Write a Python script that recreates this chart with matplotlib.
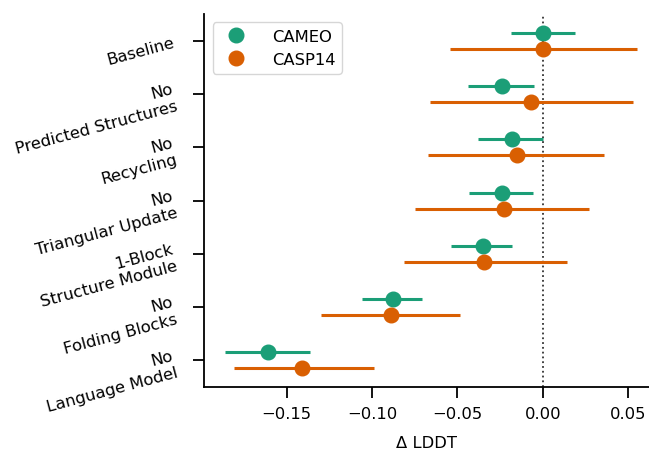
import numpy as np
import matplotlib
matplotlib.use("Agg")
import matplotlib.pyplot as plt

# ablation variants, top to bottom
labels = ["Baseline", "No\nPredicted Structures", "No\nRecycling",
          "No\nTriangular Update", "1-Block\nStructure Module",
          "No\nFolding Blocks", "No\nLanguage Model"]

# delta LDDT (mean, lower, upper)
cameo_mean = [0.000, -0.024, -0.018, -0.024, -0.035, -0.088, -0.161]
cameo_lo = [-0.019, -0.044, -0.038, -0.043, -0.054, -0.106, -0.186]
cameo_hi = [0.019, -0.005, 0.000, -0.006, -0.018, -0.0705, -0.136]

casp_mean = [0.000, -0.007, -0.015, -0.023, -0.0345, -0.089, -0.141]
casp_lo = [-0.0545, -0.066, -0.067, -0.075, -0.081, -0.130, -0.181]
casp_hi = [0.055, 0.0525, 0.0355, 0.027, 0.014, -0.0485, -0.0987]

series = [("CAMEO", cameo_mean, cameo_lo, cameo_hi, "#1b9e77", -0.15),
          ("CASP14", casp_mean, casp_lo, casp_hi, "#d95f02", 0.15)]

fig = plt.figure(figsize=(6.49, 4.56), dpi=100)
ax = fig.add_axes([0.315, 0.149, 0.685, 0.818])

y = np.arange(len(labels))
for name, m, lo, hi, col, off in series:
    ax.hlines(y + off, lo, hi, color=col, lw=2.2, zorder=2)
    ax.plot(m, y + off, "o", color=col, ms=10.5, label=name, zorder=3)

ax.axvline(0, color="#333333", ls=":", lw=1.3, zorder=1)

ax.set_ylim(len(labels) - 0.5, -0.5)
ax.set_xlim(-0.198, 0.062)
ax.set_xticks([-0.15, -0.10, -0.05, 0.00, 0.05])
ax.set_yticks(y)
ax.set_yticklabels(labels, rotation=15, ha="right", va="center_baseline",
                   rotation_mode="anchor", fontsize=11.8)
ax.tick_params(axis="x", labelsize=11.8, pad=6)
ax.tick_params(width=1.3, length=7.8)
ax.tick_params(axis="y", pad=14)
ax.set_xlabel("Δ LDDT", fontsize=11.8, labelpad=10)

for s in ["top", "right"]:
    ax.spines[s].set_visible(False)
for s in ["left", "bottom"]:
    ax.spines[s].set_linewidth(1.3)

ax.legend(loc="upper left", fontsize=11.8, handletextpad=1.2)

fig.savefig("out.png", dpi=100)
